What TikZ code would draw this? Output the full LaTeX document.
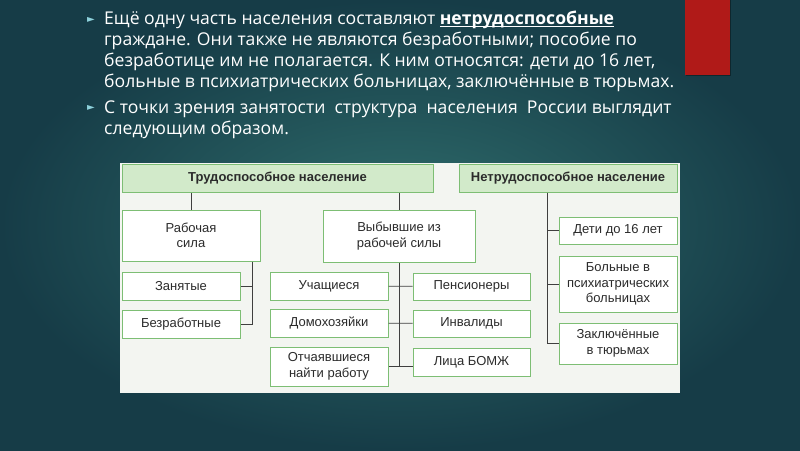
\documentclass[tikz,border=0pt]{standalone}
\usepackage{fontspec}
\newfontfamily\slidefont{Open Sans}
\newfontfamily\boxfont{Liberation Sans}
\newfontfamily\symfont{DejaVu Sans}
\usetikzlibrary{positioning}
\newcommand\uword[1]{\setbox0\hbox{#1}\rlap{\rule[-2.6pt]{\wd0}{1.3pt}}\box0}
\definecolor{bginner}{HTML}{2F6D6C}
\definecolor{bgouter}{HTML}{163C47}
\definecolor{redbar}{HTML}{B01A18}
\definecolor{bulcyan}{HTML}{8ED2DC}
\definecolor{panel}{HTML}{F3F5F1}
\definecolor{boxgreen}{HTML}{7DBE74}
\definecolor{headfill}{HTML}{D2EACA}
\definecolor{linegray}{HTML}{3F3F3F}
\definecolor{textgray}{HTML}{2B2B2B}
\tikzset{
  cell/.style={draw=boxgreen, line width=1pt, fill=white, align=center,
               inner sep=1pt, text=textgray,
               font=\boxfont\fontsize{13}{15.5}\selectfont},
  head/.style={cell, fill=headfill,
               font=\boxfont\bfseries\fontsize{13}{15.5}\selectfont},
  size/.style 2 args={minimum width=#1pt, minimum height=#2pt},
  link/.style={draw=linegray, line width=0.8pt},
  para/.style={anchor=north west, align=left, inner sep=0pt, text=white,
               font=\slidefont\fontsize{17.6}{20.8}\selectfont},
  bul/.style={text=bulcyan, inner sep=0pt, font=\symfont\fontsize{10}{10}\selectfont}
}

\begin{document}
\begin{tikzpicture}[x=1pt, y=-1pt, node distance=9pt]
  \useasboundingbox (0,0) rectangle (800,450);
  \shade[inner color=bginner, outer color=bgouter] (0,0) rectangle (800,450);
  % red tab
  \fill[black, opacity=0.35] (686,0) rectangle (731,76);
  \fill[redbar] (685,0) rectangle (730,75);

  % slide text
  \node[bul] (b1) at (91,20) {►};
  \node[para] (p1) at (104,11) {Ещё одну часть населения составляют \uword{\textbf{нетрудоспособные}}\\
    граждане. Они также не являются безработными; пособие по\\
    безработице им не полагается. К ним относятся: дети до 16 лет,\\
    больные в психиатрических больницах, заключённые в тюрьмах.};
  \node[bul] (b2) at (91,108) {►};
  \node[para] (p2) at (104,101) {С точки зрения занятости~ структура~ населения~ России выглядит\\
    следующим образом.};

  % scheme
  \fill[panel] (120,163) rectangle (680,393);
  \node[head, size={311}{28}] (able) at (277.5,178) {Трудоспособное население};
  \node[head, size={218}{28}] (unable) at (568,178) {Нетрудоспособное население};

  \node[cell, size={138}{51}] (labour) at (191,235.5) {Рабочая\\сила};
  \node[cell, size={152}{52}] (out) at (399,236) {Выбывшие из\\рабочей силы};

  \node[cell, size={118}{28}] (empl) at (181,286) {Занятые};
  \node[cell, size={118}{28}, below=of empl] (unempl) {Безработные};

  \node[cell, size={118}{28}] (stud) at (329,286) {Учащиеся};
  \node[cell, size={118}{28}, below=8pt of stud] (house) {Домохозяйки};
  \node[cell, size={118}{39}, below=of house] (despair) {Отчаявшиеся\\найти работу};

  \node[cell, size={117}{27}] (pens) at (471.5,286.5) {Пенсионеры};
  \node[cell, size={117}{27}, below=of pens] (invalid) {Инвалиды};
  \node[cell, size={117}{28}, below=10pt of invalid] (homeless) {Лица БОМЖ};

  \node[cell, size={118}{27}] (kids) at (618,230.5) {Дети до 16 лет};
  \node[cell, size={118}{56}, below=11pt of kids] (sick) {Больные в\\психиатрических\\больницах};
  \node[cell, size={118}{41}, below=10pt of sick] (jail) {Заключённые\\в тюрьмах};

  \draw[link] (labour.north) -- (labour.north |- able.south);
  \draw[link] (out.north) -- (out.north |- able.south);

  \path (labour.south east) ++(-8,0) coordinate (lbus);
  \draw[link] (lbus) -- (lbus |- unempl.east) -- (unempl.east);
  \draw[link] (empl.east) -- (empl.east -| lbus);

  \draw[link] (out.south) -- (out.south |- despair.east);
  \draw[link] (stud) -- (pens);
  \draw[link] (house) -- (invalid);
  \draw[link] (despair.east) -- (despair.east -| homeless.west);

  \path (kids.west) ++(-11,0) coordinate (rbus);
  \draw[link] (rbus |- unable.south) -- (rbus |- jail.west);
  \foreach \n in {kids,sick,jail}
    \draw[link] (\n.west) -- (\n.west -| rbus);
\end{tikzpicture}
\end{document}
